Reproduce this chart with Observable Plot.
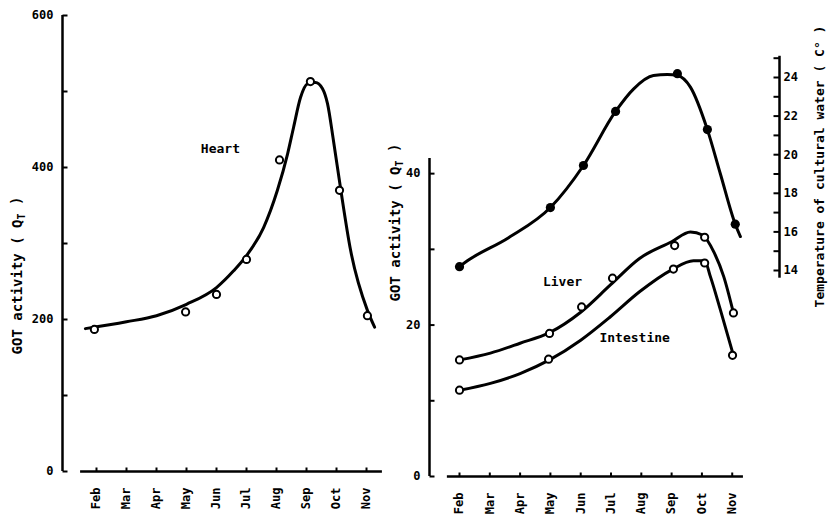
<!DOCTYPE html>
<html>
<head>
<meta charset="utf-8">
<script src="https://cdn.jsdelivr.net/npm/d3@7"></script>
<script src="https://cdn.jsdelivr.net/npm/@observablehq/plot@0.6"></script>
<style>
  body { margin: 0; background: #fff; }
  #chart { position: relative; width: 828px; height: 514px; overflow: hidden; background: #fff; }
  #chart svg { position: absolute; top: 0; background: transparent !important; overflow: visible; }
</style>
</head>
<body>
<div id="chart"></div>
<script>
// ---- categories ----
const months = ["Feb", "Mar", "Apr", "May", "Jun", "Jul", "Aug", "Sep", "Oct", "Nov"];
const monthIdx = months.map((_, i) => i);

// ---- Heart: sampling dates (months from Feb) and GOT activity (Q_T) ----
const heartX = [-0.07, 2.97, 4.0, 5.0, 6.1, 7.13, 8.1, 9.03];
const heartQ = [187, 210, 233, 279, 410, 513, 370, 205];
// hand-fitted curve through the heart measurements
const heartFitX = [-0.37, 1, 2, 3, 4, 4.57, 5, 5.57, 6.03, 6.37, 6.57, 6.8, 7.03, 7.3, 7.53, 7.7, 7.9, 8.13, 8.47, 9.03, 9.27];
const heartFitQ = [188, 197, 205, 220, 242, 264, 284, 321, 370, 418, 453, 492, 510, 512, 504, 484, 435, 374, 291, 212, 190];

// ---- Liver ----
const liverX = [0, 2.97, 4.03, 5.05, 7.1, 8.09, 9.04];
const liverQ = [15.4, 18.9, 22.4, 26.2, 30.5, 31.6, 21.6];
const liverFitX = [0, 1.02, 2.0, 2.97, 4.0, 4.98, 5.94, 7.0, 7.62, 8.02, 8.4, 8.72, 9.04];
const liverFitQ = [15.4, 16.3, 17.6, 19.0, 21.7, 25.3, 28.8, 31.0, 32.3, 31.9, 29.6, 26.4, 21.6];

// ---- Intestine ----
const intestX = [0, 2.94, 7.06, 8.09, 9.01];
const intestQ = [11.4, 15.5, 27.4, 28.2, 16.0];
const intestFitX = [0, 1.02, 2.0, 2.97, 4.0, 4.98, 5.94, 7.0, 7.72, 8.09, 8.28, 8.61, 9.04];
const intestFitQ = [11.4, 12.3, 13.6, 15.4, 18.0, 21.1, 24.4, 27.3, 28.5, 28.5, 26.4, 22.0, 16.0];

// ---- Temperature of cultural water (°C) ----
const tempX = [0, 3.0, 4.09, 5.15, 7.19, 8.18, 9.1];
const tempC = [14.2, 17.26, 19.44, 22.24, 24.2, 21.3, 16.4];
const tempFitX = [0, 0.26, 1.62, 3.0, 4.09, 5.15, 5.74, 6.4, 6.86, 7.19, 7.62, 8.18, 8.61, 9.1, 9.27];
const tempFitC = [14.2, 14.5, 15.7, 17.26, 19.44, 22.24, 23.4, 24.1, 24.15, 24.1, 23.5, 21.3, 19.0, 16.4, 15.76];

// ---- tick values ----
const heartTicks = [0, 100, 200, 300, 400, 500, 600];
const heartLabels = [0, 200, 400, 600];
const organTicks = [0, 10, 20, 30, 40];
const organLabels = [0, 20, 40];
const tempTicks = [14, 15, 16, 17, 18, 19, 20, 21, 22, 23, 24, 25];
const tempLabels = [14, 16, 18, 20, 22, 24];

const yTitle = "GOT activity ( QT )";
const tTitle = "Temperature of cultural water ( C° )";

const zip = (xs, ys) => xs.map((x, i) => ({x, y: ys[i]}));

const font = {fontFamily: "'DejaVu Sans Mono', monospace", fontSize: "12px", fontWeight: "bold", background: "transparent", color: "black"};
const ink = "#000";
const curve = "monotone-x";
const titleStyle = {rotate: -90, textAnchor: "middle", fontWeight: "bold"};

// short tick strokes drawn as custom dot symbols
const tickRight = {draw(c) { c.moveTo(0, 0); c.lineTo(5, 0); }};
const tickLeft = {draw(c) { c.moveTo(0, 0); c.lineTo(-6, 0); }};
const tickUp = {draw(c) { c.moveTo(0, 0); c.lineTo(0, -4); }};
const tickStyle = {fill: "none", stroke: ink, strokeWidth: 2};

// month axis: ticks rise above the baseline, labels rotated below it
const monthMarks = () => [
  Plot.dot(monthIdx, {x: d => d, y: 0, symbol: tickUp, ...tickStyle}),
  Plot.axisX({ticks: monthIdx, tickFormat: i => months[i], tickRotate: -90, tickSize: 0, tickPadding: 16, label: null, fontSize: 12})
];

// left panel: heart
const leftX = [-1.133, 9.533];
const left = Plot.plot({
  width: 400, height: 514,
  marginLeft: 62, marginRight: 18, marginTop: 15, marginBottom: 43,
  x: {domain: leftX},
  y: {domain: [0, 600]},
  style: font,
  marks: [
    Plot.ruleX([leftX[0]], {y1: 0, y2: 600, stroke: ink, strokeWidth: 2.5}),
    Plot.ruleY([0], {x1: -0.53, x2: 9.53, stroke: ink, strokeWidth: 2.5}),
    Plot.dot(heartTicks, {x: leftX[0], y: d => d, symbol: tickRight, ...tickStyle}),
    Plot.axisY({ticks: heartLabels, tickSize: 0, tickPadding: 9, label: null, fontSize: 12}),
    ...monthMarks(),
    Plot.line(zip(heartFitX, heartFitQ), {x: "x", y: "y", curve, stroke: ink, strokeWidth: 3}),
    Plot.dot(zip(heartX, heartQ), {x: "x", y: "y", r: 3.6, fill: "white", stroke: ink, strokeWidth: 2}),
    Plot.text(["Heart"], {x: 4.13, y: 424, fontSize: 13, fontWeight: "bold"}),
    Plot.text([yTitle], {frameAnchor: "left", dx: -45, dy: 32, fontSize: 14, ...titleStyle})
  ]
});

// right panel: liver and intestine (GOT scale)
const rightX = [-0.99, 10.56];
const rightOpts = {width: 448, height: 514, marginLeft: 49, marginRight: 49, style: font};
const right = Plot.plot({
  ...rightOpts,
  marginTop: 158, marginBottom: 38,
  x: {domain: rightX},
  y: {domain: [0, 42]},
  marks: [
    Plot.ruleX([rightX[0]], {y1: 0, y2: 42, stroke: ink, strokeWidth: 2.5}),
    Plot.ruleY([0], {x1: -0.4, x2: 9.37, stroke: ink, strokeWidth: 2.5}),
    Plot.dot(organTicks, {x: rightX[0], y: d => d, symbol: tickRight, ...tickStyle}),
    Plot.axisY({ticks: organLabels, tickSize: 0, tickPadding: 9, label: null, fontSize: 12}),
    ...monthMarks(),
    Plot.line(zip(liverFitX, liverFitQ), {x: "x", y: "y", curve, stroke: ink, strokeWidth: 3}),
    Plot.line(zip(intestFitX, intestFitQ), {x: "x", y: "y", curve, stroke: ink, strokeWidth: 3}),
    Plot.dot(zip(liverX, liverQ), {x: "x", y: "y", r: 3.6, fill: "white", stroke: ink, strokeWidth: 2}),
    Plot.dot(zip(intestX, intestQ), {x: "x", y: "y", r: 3.6, fill: "white", stroke: ink, strokeWidth: 2}),
    Plot.text(["Liver"], {x: 3.4, y: 25.7, fontSize: 13, fontWeight: "bold"}),
    Plot.text(["Intestine"], {x: 5.78, y: 18.3, fontSize: 13, fontWeight: "bold"}),
    Plot.text([yTitle], {frameAnchor: "left", dx: -34, dy: -95, fontSize: 14, ...titleStyle})
  ]
});

// overlay on the right panel: water temperature on its own scale
const temp = Plot.plot({
  ...rightOpts,
  marginTop: 57.7, marginBottom: 230.5,
  x: {domain: rightX, axis: null},
  y: {domain: [13.3, 25]},
  marks: [
    Plot.ruleX([rightX[1]], {y1: 13.6, y2: 25.1, stroke: ink, strokeWidth: 2.5}),
    Plot.dot(tempTicks, {x: rightX[1], y: d => d, symbol: tickLeft, ...tickStyle}),
    Plot.axisY({anchor: "right", ticks: tempLabels, tickSize: 0, tickPadding: 4, label: null, fontSize: 12}),
    Plot.line(zip(tempFitX, tempFitC), {x: "x", y: "y", curve, stroke: ink, strokeWidth: 3}),
    Plot.dot(zip(tempX, tempC), {x: "x", y: "y", r: 4.6, fill: ink}),
    Plot.text([tTitle], {frameAnchor: "right", dx: 40, dy: -4.6, fontSize: 13, ...titleStyle})
  ]
});

const chart = document.getElementById("chart");
left.style.left = "0px";
right.style.left = "380px";
temp.style.left = "380px";
chart.append(left, right, temp);

// subscript T in the activity axis titles
const ns = "http://www.w3.org/2000/svg";
for (const t of chart.querySelectorAll("text")) {
  if (t.textContent === yTitle) {
    t.textContent = "GOT activity ( Q";
    const sub = document.createElementNS(ns, "tspan");
    sub.setAttribute("dy", "0.35em");
    sub.setAttribute("font-size", "10");
    sub.textContent = "T";
    const rest = document.createElementNS(ns, "tspan");
    rest.setAttribute("dy", "-0.35em");
    rest.textContent = " )";
    t.append(sub, rest);
  }
}
</script>
</body>
</html>
